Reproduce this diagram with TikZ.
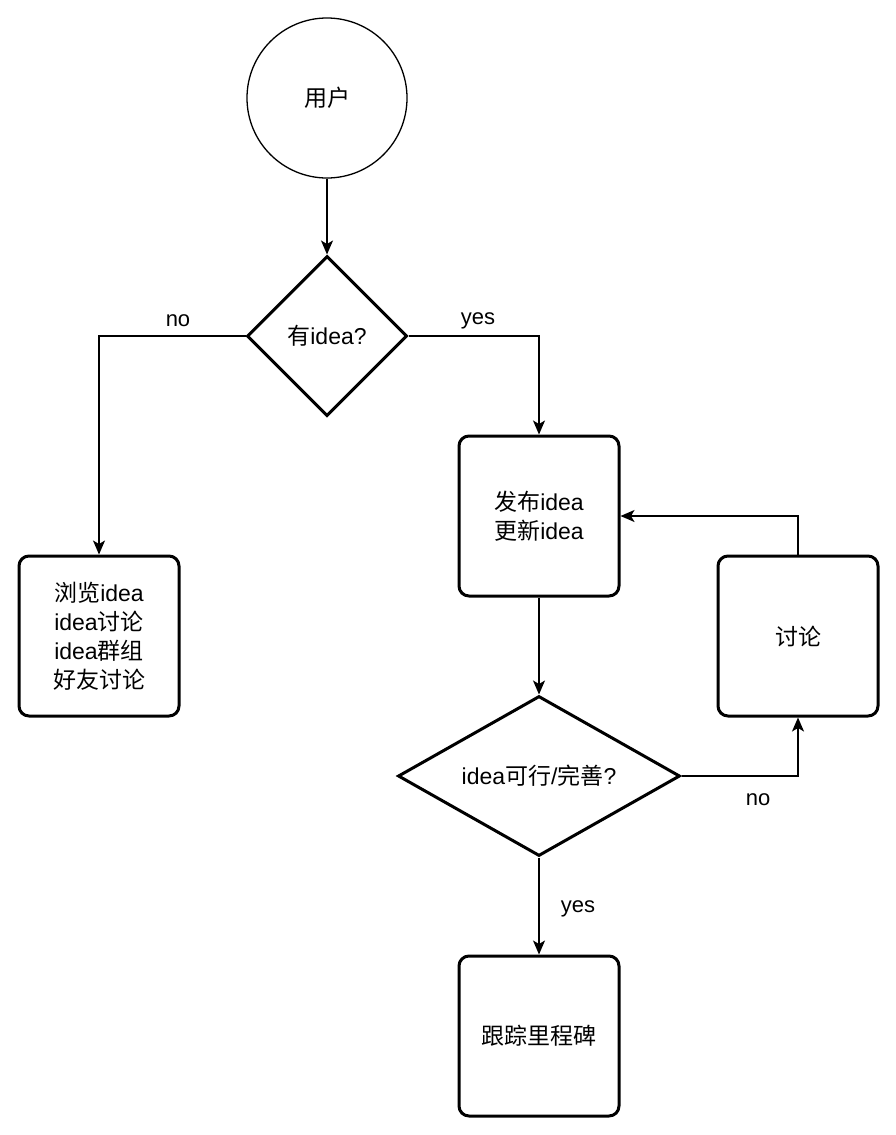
\documentclass[tikz,border=0pt]{standalone}
\usepackage{fontspec}
\setmainfont{Liberation Sans}
\newfontfamily\cjk{Noto Sans CJK SC}
\usetikzlibrary{shapes.geometric,arrows.meta}
\newcommand{\zh}[1]{{\cjk #1}}
\begin{document}
\begin{tikzpicture}[x=1pt,y=-1pt,
  every node/.style={font=\fontsize{23}{29}\selectfont, align=center, inner sep=0pt},
  circ/.style={circle, draw, line width=1.3pt, minimum size=160pt},
  dia/.style={diamond, draw, line width=3pt, minimum width=#1, minimum height=160pt},
  box/.style={rectangle, draw, line width=3pt, rounded corners=10pt, minimum width=160pt, minimum height=160pt},
  conn/.style={line width=1.3pt, -{Stealth[length=14pt,width=12pt,inset=3.5pt]}},
  lbl/.style={font=\fontsize{22}{26}\selectfont}
]
\useasboundingbox (0,0) rectangle (896,1135);
\fill[white] (0,0) rectangle (896,1135);

\node[circ] (user) at (327,98) {\zh{用户}};
\node[dia=160pt] (q1) at (327,336) {\zh{有}idea?};
\node[box] (rel) at (539,516) {\zh{发布}idea\\\zh{更新}idea};
\node[box] (browse) at (99,636) {\zh{浏览}idea\\idea\zh{讨论}\\idea\zh{群组}\\\zh{好友讨论}};
\node[box] (disc) at (798,636) {\zh{讨论}};
\node[dia=282pt, shape aspect=1.76] (q2) at (539,776) {idea\zh{可行}/\zh{完善}?};
\node[box] (track) at (539,1036) {\zh{跟踪里程碑}};

\draw[conn] (user) -- (q1);
\draw[conn] (q1.west) -| (browse.north);
\draw[conn] (q1.east) -| (rel.north);
\draw[conn] (rel) -- (q2);
\draw[conn] (q2.east) -| (disc.south);
\draw[conn] (disc.north) |- (rel.east);
\draw[conn] (q2) -- (track);

\node[lbl] (lno1) at (178,321) {no};
\node[lbl] (lyes1) at (478,321) {yes};
\node[lbl] (lno2) at (758,800) {no};
\node[lbl] (lyes2) at (578,909) {yes};
\end{tikzpicture}
\end{document}
